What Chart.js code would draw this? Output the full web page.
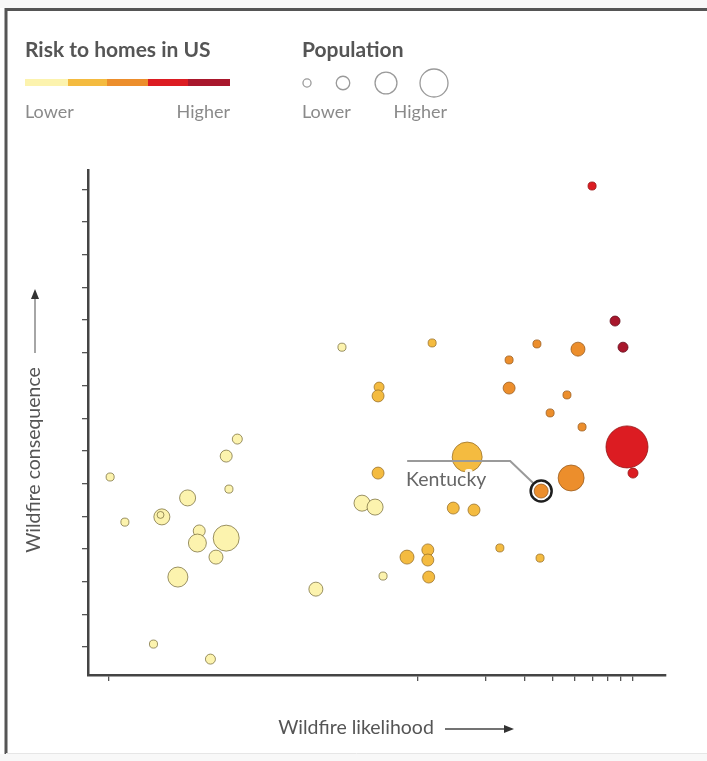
<!DOCTYPE html>
<html>
<head>
<meta charset="utf-8">
<script src="https://cdn.jsdelivr.net/npm/chart.js@4.4.1/dist/chart.umd.min.js"></script>
<style>
  html, body { margin: 0; padding: 0; background: #ffffff; }
  #wrap { width: 707px; height: 761px; position: relative; }
  canvas { display: block; }
</style>
</head>
<body>
<div id="wrap"><canvas id="c" width="707" height="761"></canvas></div>
<script>
// ---------- DATA ----------
// wildfire likelihood (log axis), wildfire consequence (linear axis),
// population (millions, approx.), risk class 1 (lower) .. 5 (higher)
const likelihood = [
  0.43, 0.50, 0.73, 0.72, 0.67, 0.95, 0.86, 1.07, 1.05, 1.27,
  1.41, 1.45, 1.41, 1.58, 1.20, 3.53, 4.61, 5.66, 6.47, 7.02,
  6.74, 6.67, 6.67, 16.6, 14.4, 17.8, 8.97, 11.1, 11.1, 11.2,
  11.6, 23.2, 35.0,
  25.5, 33.9, 25.5, 51.6, 46.1, 38.8, 53.8, 48.1, 35.4,
  59.6, 85.2, 90.6,
  75.4, 81.8
];
const consequence = [
  6.20, 4.82, 4.98, 5.04, 1.09, 5.56, 3.14, 4.55, 4.18, 3.75,
  4.33, 5.83, 6.84, 7.36, 0.63, 2.77, 10.17, 5.40, 5.28, 3.17,
  8.95, 8.68, 6.32, 6.81, 5.25, 5.19, 3.75, 3.97, 3.66, 3.14,
  10.30, 4.03, 3.72,
  9.78, 10.27, 8.92, 10.11, 8.71, 8.16, 7.73, 6.17, 5.77,
  15.10, 7.12, 6.32,
  10.97, 10.17
];
const population = [
  1.5, 1.5, 5.9, 1.1, 1.5, 5.9, 9.2, 3.3, 7.4, 4.5,
  15.5, 1.5, 3.3, 2.3, 2.3, 4.5, 1.5, 5.9, 5.9, 1.5,
  2.3, 3.3, 3.3, 20.7, 3.3, 3.3, 4.5, 3.3, 3.3, 3.3,
  1.5, 1.5, 1.5,
  1.5, 1.5, 3.3, 4.5, 1.5, 1.5, 1.5, 15.5, 4.5,
  1.5, 40.5, 2.3,
  2.3, 2.3
];
const riskClass = [
  1, 1, 1, 1, 1, 1, 1, 1, 1, 1,
  1, 1, 1, 1, 1, 1, 1, 1, 1, 1,
  2, 2, 2, 2, 2, 2, 2, 2, 2, 2,
  2, 2, 2,
  3, 3, 3, 3, 3, 3, 3, 3, 3,
  4, 4, 4,
  5, 5
];
const stateNames = likelihood.map(() => '');
stateNames[41] = 'Kentucky';

const xTicks = [0.425, 10, 20, 30, 40, 50, 60, 70, 80, 90];
const yTicks = [1, 2, 3, 4, 5, 6, 7, 8, 9, 10, 11, 12, 13, 14, 15];

const riskLabels = ['Lower', '', '', '', 'Higher'];
const riskColors = ['#fcf3ae', '#f4bb40', '#ec8e2c', '#dc1c22', '#a8172c'];
const riskBorders = ['rgba(120,110,60,0.75)', 'rgba(150,110,40,0.75)', 'rgba(150,90,30,0.75)', 'rgba(150,20,20,0.8)', 'rgba(100,15,30,0.8)'];
const popLegend = [1.5, 4.2, 11, 18];

const radiusOf = p => 3.3 * Math.sqrt(p);

// ---------- DATASETS ----------
const datasets = riskColors.map((col, ci) => {
  const pts = [];
  likelihood.forEach((x, i) => {
    if (riskClass[i] === ci + 1) pts.push({ x: x, y: consequence[i], r: radiusOf(population[i]), idx: i });
  });
  return {
    label: 'risk' + (ci + 1),
    data: pts,
    backgroundColor: col,
    borderColor: riskBorders[ci],
    borderWidth: 1,
    hoverRadius: 0,
    clip: false
  };
});

const FONT = 'Lato, "Open Sans", sans-serif';

const decor = {
  id: 'decor',
  beforeDraw(chart) {
    const c = chart.ctx;
    c.save();
    // background & frame
    c.fillStyle = '#f8f8f8';
    c.fillRect(0, 0, 707, 8);
    c.fillRect(0, 754, 707, 7);
    c.fillStyle = '#ffffff';
    c.fillRect(7, 11, 700, 743);
    c.strokeStyle = '#555';
    c.lineWidth = 3;
    c.beginPath();
    c.moveTo(6, 754); c.lineTo(6, 9.5); c.lineTo(707, 9.5);
    c.stroke();
    c.strokeStyle = '#e6e6e6';
    c.lineWidth = 1;
    c.beginPath(); c.moveTo(6, 753.5); c.lineTo(707, 753.5); c.stroke();

    // legend: risk
    c.fillStyle = '#555';
    c.font = 'bold 21px ' + FONT;
    c.textBaseline = 'alphabetic';
    c.textAlign = 'left';
    c.fillText('Risk to homes in US', 25, 57);
    const segX = [25, 68, 107, 148, 188, 230];
    riskColors.forEach((col, i) => {
      c.fillStyle = col;
      c.fillRect(segX[i], 79, segX[i + 1] - segX[i], 7);
    });
    c.font = '18px ' + FONT;
    c.fillStyle = '#8a8a8a';
    c.fillText(riskLabels[0], 25, 118);
    c.textAlign = 'right';
    c.fillText(riskLabels[4], 230, 118);

    // legend: population
    c.textAlign = 'left';
    c.fillStyle = '#555';
    c.font = 'bold 21px ' + FONT;
    c.fillText('Population', 302, 57);
    const cx = [307, 343, 386, 434];
    c.strokeStyle = '#9a9a9a';
    c.lineWidth = 1.3;
    popLegend.forEach((p, i) => {
      c.beginPath();
      c.arc(cx[i], 83, radiusOf(p), 0, Math.PI * 2);
      c.stroke();
    });
    c.font = '18px ' + FONT;
    c.fillStyle = '#8a8a8a';
    c.fillText('Lower', 302, 118);
    c.textAlign = 'right';
    c.fillText('Higher', 447, 118);

    // axis titles
    c.fillStyle = '#555';
    c.font = '19.5px ' + FONT;
    c.textAlign = 'center';
    c.textBaseline = 'middle';
    c.fillText('Wildfire likelihood', 356, 728);
    c.strokeStyle = '#444';
    c.lineWidth = 1.5;
    c.beginPath(); c.moveTo(445, 729); c.lineTo(505, 729); c.stroke();
    c.fillStyle = '#333';
    c.beginPath(); c.moveTo(514, 729); c.lineTo(504, 725); c.lineTo(504, 733); c.closePath(); c.fill();

    c.save();
    c.translate(34, 460);
    c.rotate(-Math.PI / 2);
    c.fillStyle = '#555';
    c.fillText('Wildfire consequence', 0, 0);
    c.restore();
    c.strokeStyle = '#888';
    c.lineWidth = 1.5;
    c.beginPath(); c.moveTo(35, 353); c.lineTo(35, 298); c.stroke();
    c.fillStyle = '#333';
    c.beginPath(); c.moveTo(35, 289); c.lineTo(31, 299); c.lineTo(39, 299); c.closePath(); c.fill();
    c.restore();
  },
  afterDatasetsDraw(chart) {
    const c = chart.ctx;
    const xs = chart.scales.x, ys = chart.scales.y;
    stateNames.forEach((name, i) => {
      if (!name) return;
      const px = xs.getPixelForValue(likelihood[i]);
      const py = ys.getPixelForValue(consequence[i]);
      c.save();
      // leader line
      c.strokeStyle = '#9a9a9a';
      c.lineWidth = 2;
      c.beginPath();
      c.moveTo(px - 8, py - 8);
      c.lineTo(px - 31, py - 30);
      c.lineTo(px - 134, py - 30);
      c.stroke();
      // label with halo
      c.font = '19.5px ' + FONT;
      c.textAlign = 'center';
      c.textBaseline = 'middle';
      c.lineJoin = 'round';
      c.strokeStyle = 'rgba(255,255,255,0.9)';
      c.lineWidth = 6;
      c.strokeText(name, px - 95, py - 11);
      c.fillStyle = '#666';
      c.fillText(name, px - 95, py - 11);
      // ring
      c.strokeStyle = '#1e1e1e';
      c.lineWidth = 2.5;
      c.beginPath();
      c.arc(px, py, 10.5, 0, Math.PI * 2);
      c.stroke();
      c.restore();
    });
  }
};

new Chart(document.getElementById('c'), {
  type: 'bubble',
  data: { datasets: datasets },
  options: {
    responsive: false,
    animation: false,
    events: [],
    layout: { autoPadding: false, padding: { left: 82, right: 41, top: 170, bottom: 80 } },
    plugins: { legend: { display: false }, tooltip: { enabled: false } },
    scales: {
      x: {
        type: 'logarithmic',
        bounds: 'data',
        min: 0.3428,
        max: 127,
        afterBuildTicks: s => { s.ticks = xTicks.map(v => ({ value: v })); },
        ticks: { display: false },
        grid: { drawOnChartArea: false, drawTicks: true, tickLength: 6, color: '#555', lineWidth: 1.3 },
        border: { display: true, color: '#444', width: 2.5 }
      },
      y: {
        type: 'linear',
        bounds: 'data',
        min: 0.144,
        max: 15.59,
        afterBuildTicks: s => { s.ticks = yTicks.map(v => ({ value: v })); },
        ticks: { display: false },
        grid: { drawOnChartArea: false, drawTicks: true, tickLength: 6, color: '#555', lineWidth: 1.3 },
        border: { display: true, color: '#444', width: 2.5 }
      }
    }
  },
  plugins: [decor]
});
</script>
</body>
</html>
